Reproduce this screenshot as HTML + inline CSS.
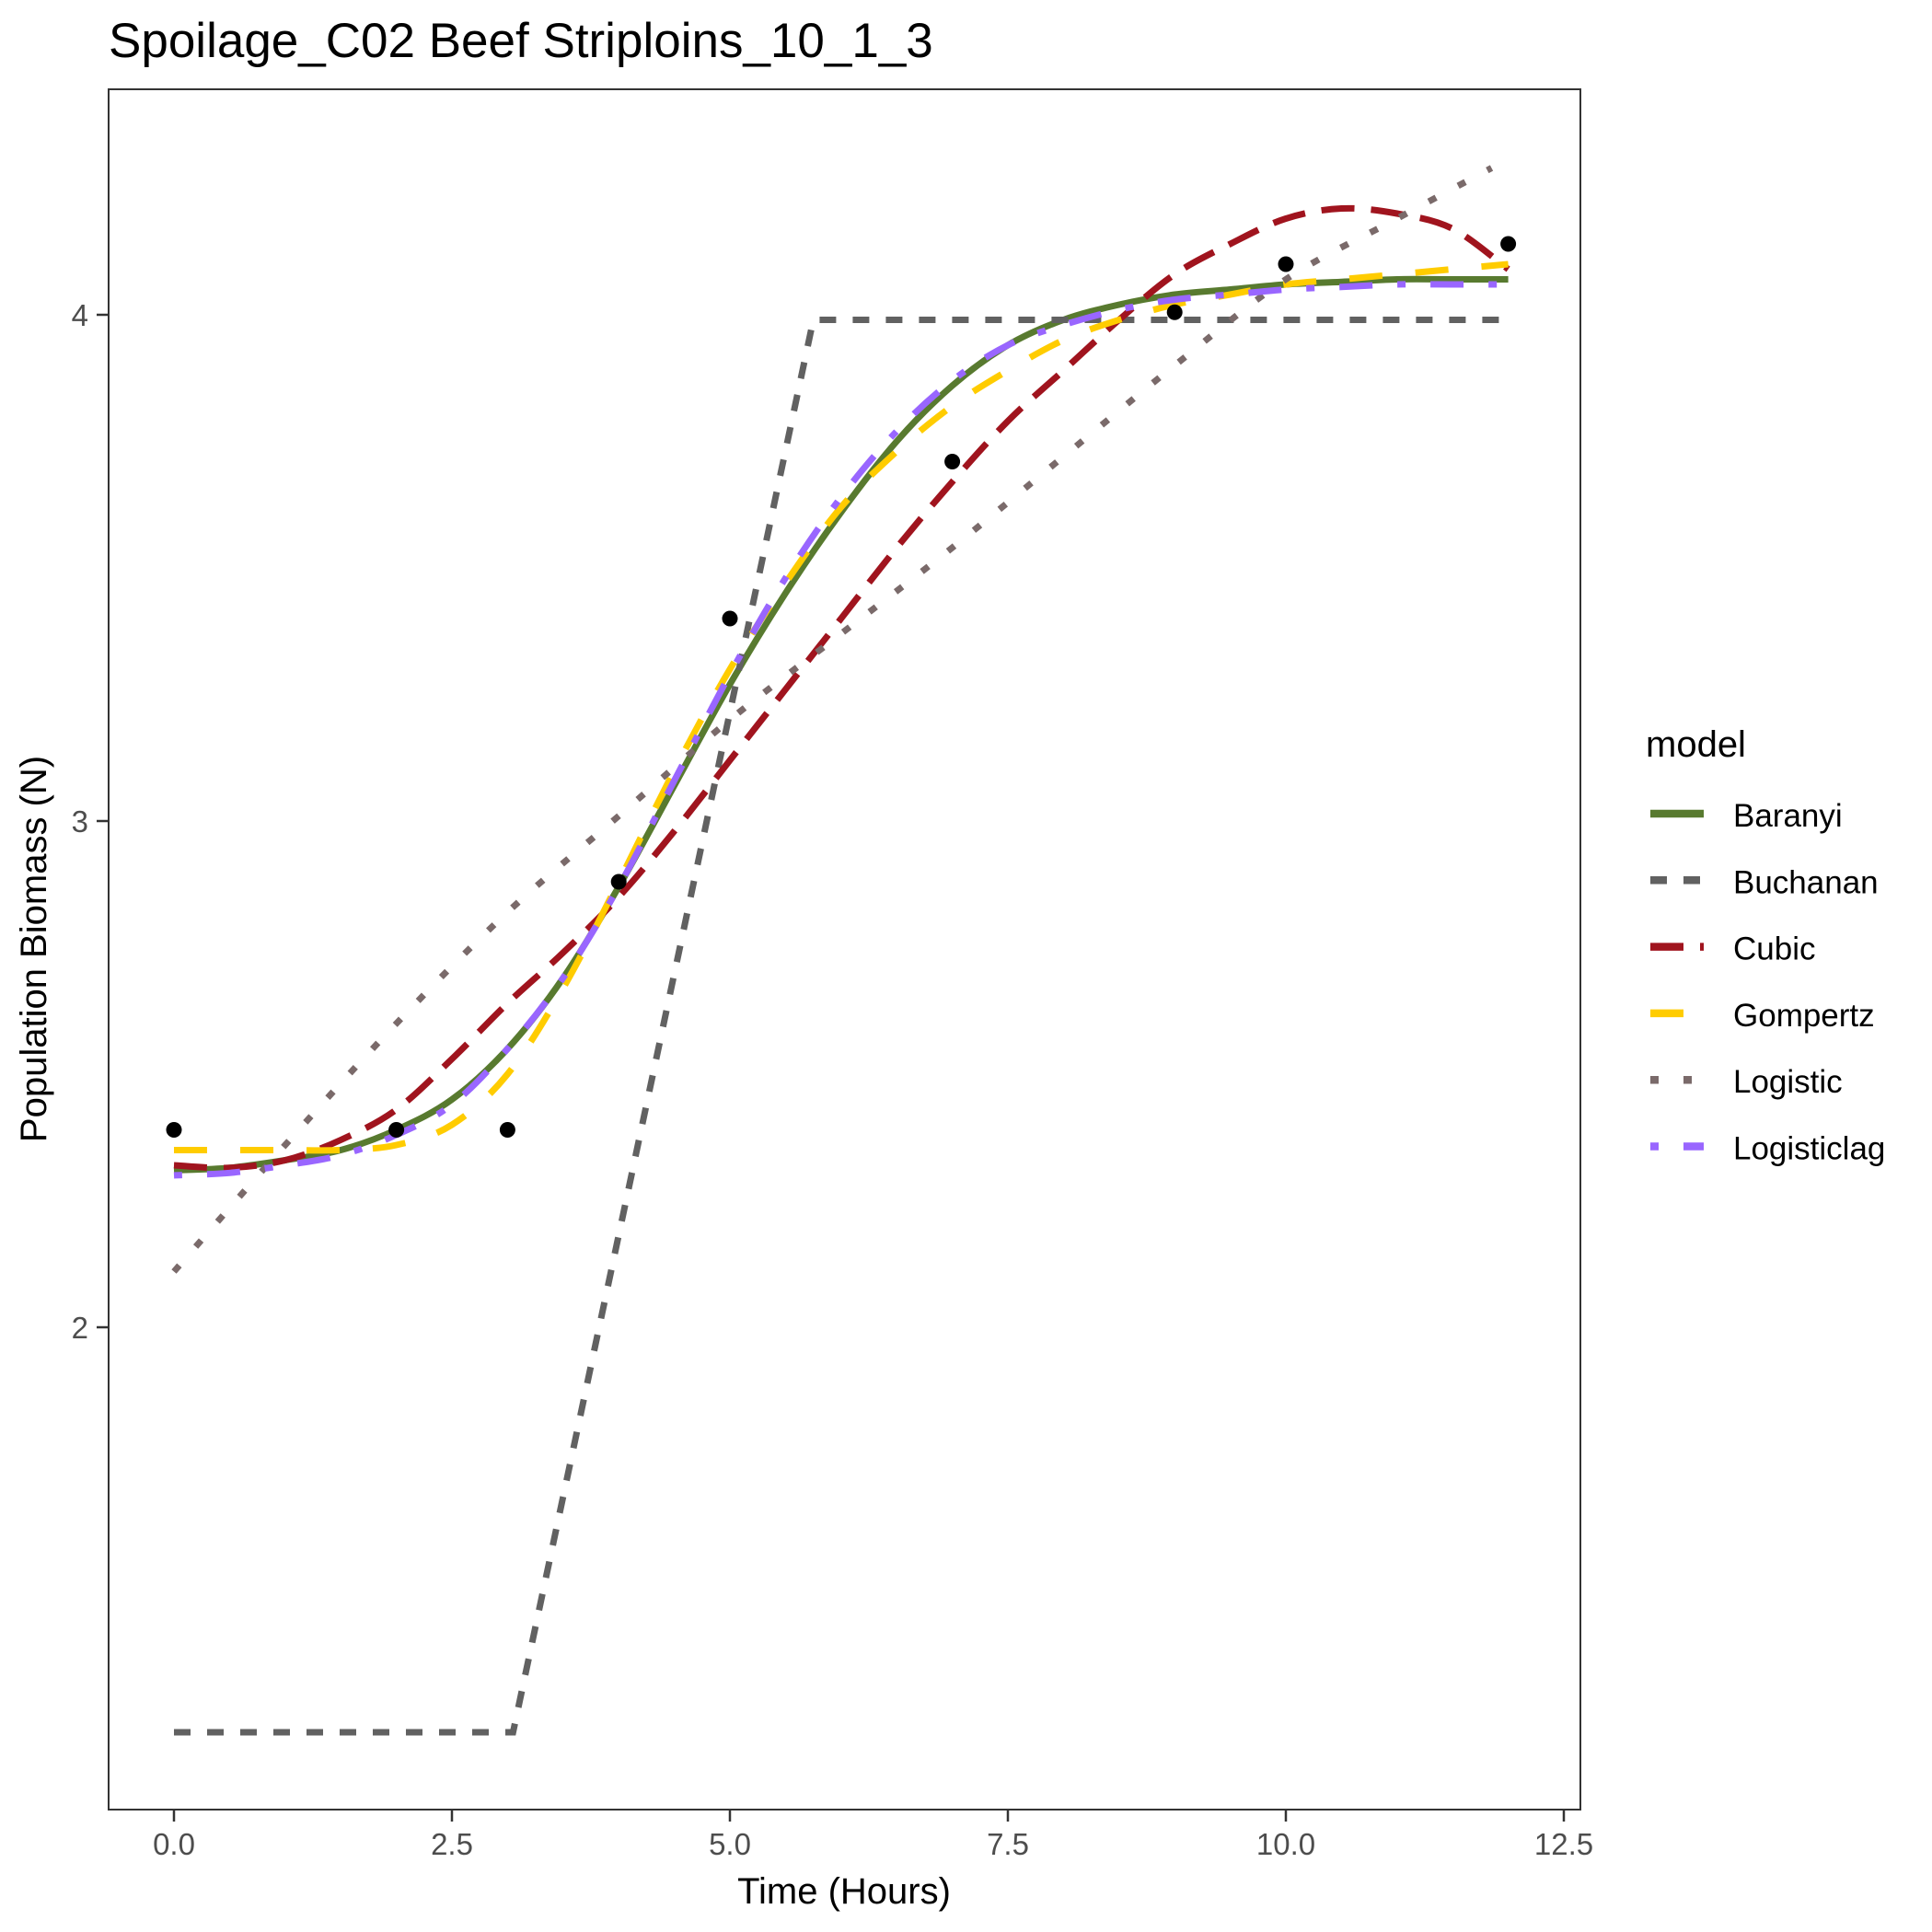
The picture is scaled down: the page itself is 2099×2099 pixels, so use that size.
<!DOCTYPE html>
<html><head><meta charset="utf-8"><style>
html,body{margin:0;padding:0;background:#fff}
svg{display:block}
text{font-family:"Liberation Sans",Arial,sans-serif}
</style></head><body>
<svg id="chart" width="2099" height="2099" viewBox="0 0 2099 2099">
<rect x="0" y="0" width="2099" height="2099" fill="#fff"/>
<text x="118" y="62" font-size="53" fill="#000">Spoilage_C02 Beef Striploins_10_1_3</text>
<g id="plot"></g>
<rect x="118" y="97" width="1599" height="1869" fill="none" stroke="#333" stroke-width="2"/>
<g id="axes"></g>
<text x="917" y="2068" font-size="40" text-anchor="middle" fill="#000">Time (Hours)</text>
<text transform="translate(50,1031) rotate(-90)" font-size="40" text-anchor="middle" fill="#000">Population Biomass (N)</text>
<g id="legend"></g>
</svg>
<script>
const xTicks=[0,2.5,5,7.5,10,12.5];
const xTickLabels=["0.0","2.5","5.0","7.5","10.0","12.5"];
const yTicks=[2,3,4];
const yTickLabels=["2","3","4"];
const obsX=[0,2,3,4,5,7,9,10,12];
const obsY=[2.39,2.39,2.39,2.88,3.40,3.71,4.005,4.10,4.14];
const gridX=[0,0.5,1,1.5,2,2.5,3,3.5,4,4.5,5,5.5,6,6.5,7,7.5,8,8.5,9,9.5,10,10.5,11,11.5,12];
const baranyiY=[2.31,2.315,2.33,2.35,2.39,2.45,2.55,2.69,2.87,3.07,3.27,3.45,3.61,3.75,3.86,3.94,3.99,4.02,4.04,4.05,4.06,4.065,4.07,4.07,4.07];
const logisticlagY=[2.30,2.305,2.32,2.34,2.38,2.44,2.55,2.69,2.87,3.08,3.29,3.48,3.64,3.77,3.87,3.94,3.98,4.01,4.03,4.04,4.05,4.055,4.06,4.06,4.06];
const gompertzY=[2.35,2.35,2.35,2.35,2.36,2.40,2.50,2.67,2.88,3.10,3.30,3.47,3.62,3.73,3.82,3.89,3.95,3.99,4.02,4.04,4.06,4.07,4.08,4.09,4.10];
const cubicY=[2.32,2.315,2.33,2.37,2.43,2.53,2.64,2.74,2.85,2.98,3.12,3.26,3.40,3.54,3.67,3.79,3.89,3.99,4.08,4.14,4.19,4.21,4.20,4.17,4.09];
const logisticX=[0,1,2,3,4,5,6,7,8,9,10,11,11.85];
const logisticY=[2.11,2.36,2.60,2.82,3.01,3.20,3.37,3.54,3.72,3.90,4.07,4.19,4.29];
const buchananX=[0,3.05,5.75,12];
const buchananY=[1.2,1.2,3.99,3.99];
const seriesNames=["Baranyi","Buchanan","Cubic","Gompertz","Logistic","Logisticlag"];
const seriesColors=["#587a2f","#616161","#a0141e","#ffcc00","#7a6a6a","#9966ff"];
const seriesDash=["","18,18","36,18","36,36","9,27","9,27,36,27"];

const NS="http://www.w3.org/2000/svg";
function sx(v){return 189+v*120.8;}
function sy(v){return 342+(4-v)*550;}
function mk(tag,attrs,parent){const e=document.createElementNS(NS,tag);for(const k in attrs)e.setAttribute(k,attrs[k]);parent.appendChild(e);return e;}
const plot=document.getElementById('plot');
const axes=document.getElementById('axes');
const legend=document.getElementById('legend');

function pathFor(xs,ys,smooth){
  const P=xs.map((x,j)=>[sx(x),sy(ys[j])]);
  let d='M'+P[0][0].toFixed(1)+' '+P[0][1].toFixed(1);
  for(let j=0;j<P.length-1;j++){
    if(!smooth){d+=' L'+P[j+1][0].toFixed(1)+' '+P[j+1][1].toFixed(1);continue;}
    const p0=P[j-1]||P[j],p1=P[j],p2=P[j+1],p3=P[j+2]||P[j+1];
    const c1=[p1[0]+(p2[0]-p0[0])/6,p1[1]+(p2[1]-p0[1])/6];
    const c2=[p2[0]-(p3[0]-p1[0])/6,p2[1]-(p3[1]-p1[1])/6];
    d+=' C'+c1[0].toFixed(1)+' '+c1[1].toFixed(1)+' '+c2[0].toFixed(1)+' '+c2[1].toFixed(1)+' '+p2[0].toFixed(1)+' '+p2[1].toFixed(1);
  }
  return d;
}
function drawLine(xs,ys,i,name,smooth){
  const p=mk('path',{d:pathFor(xs,ys,smooth),fill:'none',stroke:seriesColors[i],'stroke-width':7,'stroke-dasharray':seriesDash[i]},plot);
  
  
}
drawLine(gridX,baranyiY,0,'baranyi-line',true);
drawLine(buchananX,buchananY,1,'buchanan-line',false);
drawLine(gridX,cubicY,2,'cubic-line',true);
drawLine(gridX,gompertzY,3,'gompertz-line',true);
drawLine(logisticX,logisticY,4,'logistic-line',true);
drawLine(gridX,logisticlagY,5,'logisticlag-line',true);

obsX.forEach((x,i)=>{
  const c=mk('circle',{cx:sx(x),cy:sy(obsY[i]),r:8.5,fill:'#000'},plot);
  
  
});

xTicks.forEach((t,i)=>{
  const l=mk('line',{x1:sx(t),x2:sx(t),y1:1967,y2:1979,stroke:'#333','stroke-width':2.5},axes);
  
  
  const tx=mk('text',{x:sx(t),y:2015,'font-size':33,'text-anchor':'middle',fill:'#4d4d4d'},axes);
  tx.textContent=xTickLabels[i];
  
  
});
yTicks.forEach((t,i)=>{
  const l=mk('line',{x1:105,x2:117,y1:sy(t),y2:sy(t),stroke:'#333','stroke-width':2.5},axes);
  
  
  const tx=mk('text',{x:96,y:sy(t)+12,'font-size':33,'text-anchor':'end',fill:'#4d4d4d'},axes);
  tx.textContent=yTickLabels[i];
  
  
});

const lt=mk('text',{x:1788,y:822,'font-size':40,fill:'#000'},legend);
lt.textContent='model';


seriesNames.forEach((n,i)=>{
  const y=884+i*72.3;
  const l=mk('line',{x1:1793,x2:1851,y1:y,y2:y,stroke:seriesColors[i],'stroke-width':8.5,'stroke-dasharray':seriesDash[i]},legend);
  
  
  const t=mk('text',{x:1883,y:y+14,'font-size':35,fill:'#000'},legend);
  t.textContent=n;
  
  
});
</script>
</body></html>
